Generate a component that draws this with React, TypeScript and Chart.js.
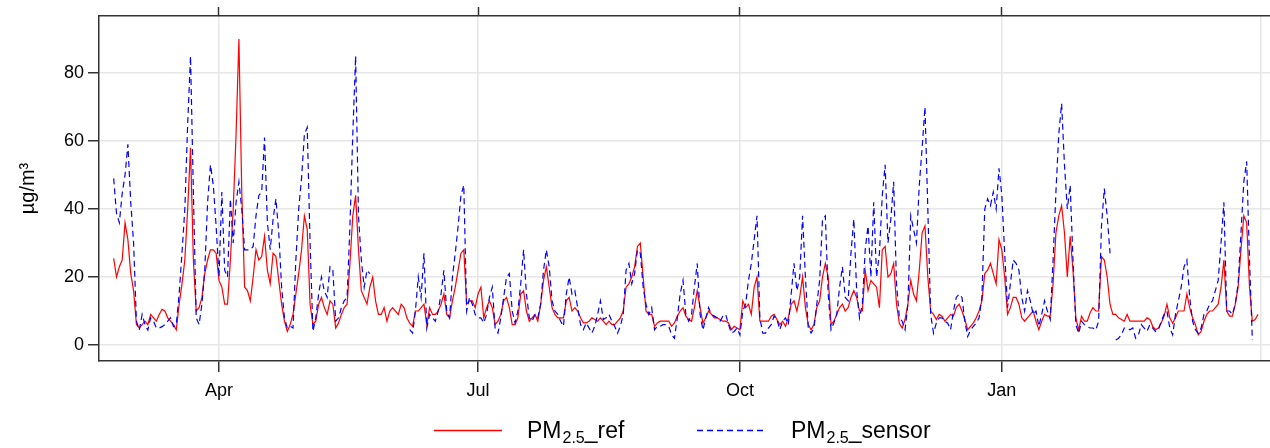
import React, { useEffect, useRef } from 'react';
import { Chart, registerables } from 'chart.js';

Chart.register(...registerables);

// Daily series. Day index 0 = 23 Feb, index 37 = 1 Apr, index 312 = 1 Jan, index 403 = 1 Apr (next year)
const tickDays = [37, 128, 220, 312, 403];
const tickLabels = ['Apr', 'Jul', 'Oct', 'Jan', ''];
const yTicks = [0, 20, 40, 60, 80];
const seriesNames = ['_ref', '_sensor'];
const yTitle = 'µg/m³';

const pmRef = [
  25.5, 20, 23, 25, 36, 31, 21, 16, 6, 5,
  6, 7, 6, 9, 8, 7, 9, 10.5, 10, 8,
  7, 6, 4.5, 12, 18, 25, 40, 58, 25, 10,
  11, 14, 21, 25, 28, 28, 27, 19, 17, 12,
  12, 25, 40, 62, 90, 45, 17, 16, 13, 20,
  28, 25, 26, 32, 22, 18, 27, 26, 19, 12,
  7, 4, 6, 9, 15, 21, 28, 38, 34, 12,
  6, 7, 12, 14, 11, 9, 13, 12, 5, 6.5,
  9, 11, 12, 24, 38, 44, 28, 16, 14, 12,
  17, 20, 13, 9, 9, 11, 7, 10, 11, 10,
  9, 12, 11, 8, 6.4, 5.5, 10, 10, 11, 12,
  6, 11, 9, 9, 10, 12, 15, 9, 8, 13,
  17, 22, 27, 28, 12, 13, 13, 11, 15, 17,
  8, 11, 13, 11, 6, 7, 9, 13, 14, 11,
  6, 6, 8, 15, 16, 10, 7, 8, 9, 7,
  12, 19, 23, 17, 11, 9, 8, 8, 8, 13,
  14, 10, 11, 10, 8, 6.5, 6.5, 7, 8, 7.5,
  7, 8, 7, 6, 7, 6, 6, 7, 8, 10,
  17, 18, 20, 23, 29, 30, 20, 10, 9, 9,
  5.5, 6.5, 7, 7, 7, 7, 5.5, 6.5, 8.5, 10,
  11, 8.5, 7.5, 7, 11, 16, 11, 6.4, 8, 10,
  9, 8, 8, 7.5, 7, 7, 6.5, 4.5, 5.5, 5,
  4.5, 13, 11, 12, 9, 17, 20, 7, 7, 7,
  7, 8.5, 9, 7.5, 6, 7, 5.5, 8, 12, 13,
  10, 14, 20, 11, 6, 4.5, 6, 11, 13, 20,
  24, 20, 6, 7, 9, 11, 12, 10, 11, 14,
  16, 14, 10, 10, 22, 16, 19, 18, 17, 11,
  28, 29, 20, 21, 24, 12, 6.4, 5, 7.5, 12,
  19, 15, 13, 22, 33, 35, 20, 10, 9, 7.5,
  9, 8.5, 7, 8, 9, 8.5, 11, 12, 10, 7.5,
  4.5, 5.5, 6.5, 8, 10, 13, 21, 22, 24, 21,
  18, 31, 28, 20, 9, 11, 14, 14, 12, 8,
  7, 8, 9, 10, 7, 4.5, 7, 9, 8.5, 8.5,
  18, 33, 38, 41, 33, 20, 32, 22, 8, 4.4,
  8.5, 7, 7, 9.5, 11, 10, 10, 26, 25, 20,
  12, 9, 9, 8, 7.5, 7, 9, 7, 7, 7,
  7, 7, 7, 8, 7.5, 5.5, 4.5, 5, 6.5, 8.5,
  12, 8, 6.4, 8, 10, 10, 10, 15, 11, 8,
  6, 3, 4, 7, 9, 10, 10, 11, 12, 17,
  25, 10, 8.5, 8.5, 12, 17, 28, 38, 36, 17,
  7, 7.5, 9,
];

const pmSensor = [
  49, 38.7, 36, 44.6, 50, 59, 42, 30, 7, 4.4,
  9, 6, 4.4, 8, 7, 5, 5, 5.4, 6, 7,
  8, 5.4, 6, 15, 27, 40, 65, 85, 45, 8,
  6, 12, 22, 42, 53, 47, 35, 20, 45, 22,
  20, 43, 30, 42, 48, 40, 28, 28, 28, 29,
  38, 44, 45, 61, 36, 28, 37, 43, 33, 17,
  8, 5, 5.5, 5, 25, 40, 49, 62, 64, 30,
  4, 8, 15, 20, 16, 14, 23, 22, 7, 8,
  11, 13, 14, 35, 62, 85, 38, 25, 17, 22,
  21, null, null, null, null, null, null, null, null, null,
  null, null, null, null, 4.5, 3.5, 10, 20, 14, 27,
  5, 9, 8, 7, 10, 15, 22, 10, 8, 20,
  27, 35, 44, 47, 10, 14, 12, 9, 8, 8,
  6.5, 9, 14, 17, 5, 3.5, 8, 14, 20, 21,
  10, 6.5, 10, 18, 28, 15, 8, 7, 9, 8,
  12, 22, 28, 23, 13, 10, 9, 7, 5.5, 15,
  20, 15, 16, 11, 6, 4.5, 6.5, 5, 3.5, 5.5,
  9, 13, 7.5, 8, 9, 7, 5.5, 3.5, 5.5, 9,
  22, 24, 18, 21, 28, 27, 17, 12, 9, 11,
  4.5, 5.5, 5.5, 6, 6, 5.5, 3, 2, 8, 15,
  19, 9, 7, 9, 17, 24, 9, 4.4, 8, 11,
  9, 8.5, 8, 7, 8.5, 9, 6, 3.5, 4, 5,
  3, 10, 12, 19, 24, 31, 38, 8, 3.5, 3.5,
  5, 6, 8.5, 7.5, 4.5, 7, 8, 6, 15, 24,
  16, 20, 38, 20, 5, 3.5, 5, 12, 19, 37,
  38, 15, 4.5, 6.5, 9, 17, 23, 14, 13, 27,
  37, 16, 8, 12, 28, 35, 20, 42, 20, 27,
  44, 53, 30, 37, 48, 18, 8, 7, 4.5, 12,
  38, 34, 30, 47, 58, 70, 40, 9, 3.5, 6.5,
  8, 8, 7, 6.4, 4.5, 10, 14, 15, 14, 7,
  2.5, 4.4, 5.5, 6.5, 8, 14, 40, 43, 41, 45,
  40, 52, 44, 27, 11, 18, 25, 24, 22, 14,
  10, 16, 13, 9, 10, 5.5, 9, 13, 10, 7.5,
  25, 45, 62, 71, 53, 40, 47, 25, 6, 3.4,
  7, 6, 5.4, 5, 5, 4.4, 7, 35, 46, 38,
  27, null, 1.5, 2, 3, 5, 5, 4.5, 5, 2,
  3, 6, 5, 4, 6, 5, 4, 4.4, 7, 9,
  10, 5, 3, 9, 13, 17, 23, 25, 14, 7,
  4.5, 3.4, 5, 9, 10, 12, 13, 16, 19, 30,
  42, 10, 10, 9, 12, 18, 33, 48, 54, 25,
  1.5,
];

const FONT = '"Liberation Sans", Arial, Helvetica, sans-serif';

function drawLegendLabel(ctx: CanvasRenderingContext2D, x: number, y: number, suffix: string) {
  ctx.setLineDash([]);
  ctx.fillStyle = '#000';
  ctx.textAlign = 'left';
  ctx.textBaseline = 'alphabetic';
  ctx.font = `23px ${FONT}`;
  ctx.fillText('PM', x, y);
  const w1 = ctx.measureText('PM').width;
  ctx.font = `16px ${FONT}`;
  ctx.fillText('2.5', x + w1 + 1, y + 5);
  const w2 = ctx.measureText('2.5').width;
  ctx.font = `23px ${FONT}`;
  ctx.fillText(suffix, x + w1 + 1 + w2, y);
}

const legendPlugin = {
  id: 'bottomLegend',
  afterDraw(chart: any) {
    const ctx: CanvasRenderingContext2D = chart.ctx;
    ctx.save();
    ctx.lineWidth = 1.3;
    ctx.strokeStyle = '#ff0000';
    ctx.setLineDash([]);
    ctx.beginPath();
    ctx.moveTo(434, 430.5);
    ctx.lineTo(502, 430.5);
    ctx.stroke();
    drawLegendLabel(ctx, 527, 438, seriesNames[0]);
    ctx.strokeStyle = '#0000ff';
    ctx.setLineDash([6, 4]);
    ctx.beginPath();
    ctx.moveTo(697, 430.5);
    ctx.lineTo(763, 430.5);
    ctx.stroke();
    drawLegendLabel(ctx, 791, 438, seriesNames[1]);
    ctx.restore();
  },
};

export default function App() {
  const ref = useRef<HTMLCanvasElement | null>(null);

  useEffect(() => {
    if (!ref.current) return;
    const xMin = -5.15;
    const xMax = 406.2;
    const tickColor = (c: any) =>
      c.tick && c.tick.value === tickDays[tickDays.length - 1] ? 'rgba(0,0,0,0)' : '#333';
    const setTicks = (vals: number[]) => (scale: any) => {
      scale.ticks = vals.map((v) => ({ value: v }));
    };
    const chart = new Chart(ref.current, {
      type: 'line',
      data: {
        datasets: [
          {
            label: 'PM2.5' + seriesNames[0],
            data: pmRef.map((v, i) => ({ x: i, y: v })),
            borderColor: '#ff0000',
            borderWidth: 1.2,
            pointRadius: 0,
            tension: 0,
            order: 2,
          },
          {
            label: 'PM2.5' + seriesNames[1],
            data: pmSensor.map((v, i) => ({ x: i, y: v })),
            borderColor: '#0000ff',
            borderWidth: 1.2,
            borderDash: [6, 4],
            pointRadius: 0,
            tension: 0,
            spanGaps: false,
            order: 1,
          },
        ],
      },
      options: {
        animation: false,
        responsive: false,
        layout: { padding: 0 },
        plugins: { legend: { display: false }, tooltip: { enabled: false } },
        scales: {
          x: {
            type: 'linear',
            position: 'bottom',
            min: xMin,
            max: xMax,
            afterBuildTicks: setTicks(tickDays),
            afterFit: (s: any) => { s.height = 87; },
            grid: { color: '#e6e6e6', lineWidth: 1.5, tickLength: 11, tickWidth: 1.5, tickColor },
            border: { display: true, color: '#333', width: 1.5 },
            ticks: {
              autoSkip: false,
              maxRotation: 0,
              minRotation: 0,
              padding: 8,
              color: '#000',
              font: { family: FONT, size: 18 },
              callback: (v: any) => tickLabels[tickDays.indexOf(Number(v))] ?? '',
            },
          },
          x2: {
            type: 'linear',
            position: 'top',
            min: xMin,
            max: xMax,
            afterBuildTicks: setTicks(tickDays),
            afterFit: (s: any) => { s.height = 16; },
            grid: { drawOnChartArea: false, tickLength: 9, tickWidth: 1.5, tickColor },
            border: { display: true, color: '#333', width: 1.5 },
            ticks: { display: false },
          },
          y: {
            type: 'linear',
            position: 'left',
            min: -4.7,
            max: 96.76,
            afterBuildTicks: setTicks(yTicks),
            afterFit: (s: any) => { s.width = 99; },
            grid: { color: '#e6e6e6', lineWidth: 1.5, tickLength: 11, tickWidth: 1.5, tickColor: '#333' },
            border: { display: true, color: '#333', width: 1.5 },
            ticks: { padding: 4, color: '#000', font: { family: FONT, size: 18 } },
            title: {
              display: true,
              text: yTitle,
              color: '#000',
              font: { family: FONT, size: 20 },
              padding: { top: 16, bottom: 0 },
            },
          },
        },
      },
      plugins: [legendPlugin],
    } as any);
    return () => chart.destroy();
  }, []);

  return (
    <div style={{ position: 'fixed', left: 0, top: 0, width: 1270, height: 448, background: '#fff' }}>
      <canvas ref={ref} width={1270} height={448} style={{ display: 'block', width: 1270, height: 448 }} />
    </div>
  );
}
